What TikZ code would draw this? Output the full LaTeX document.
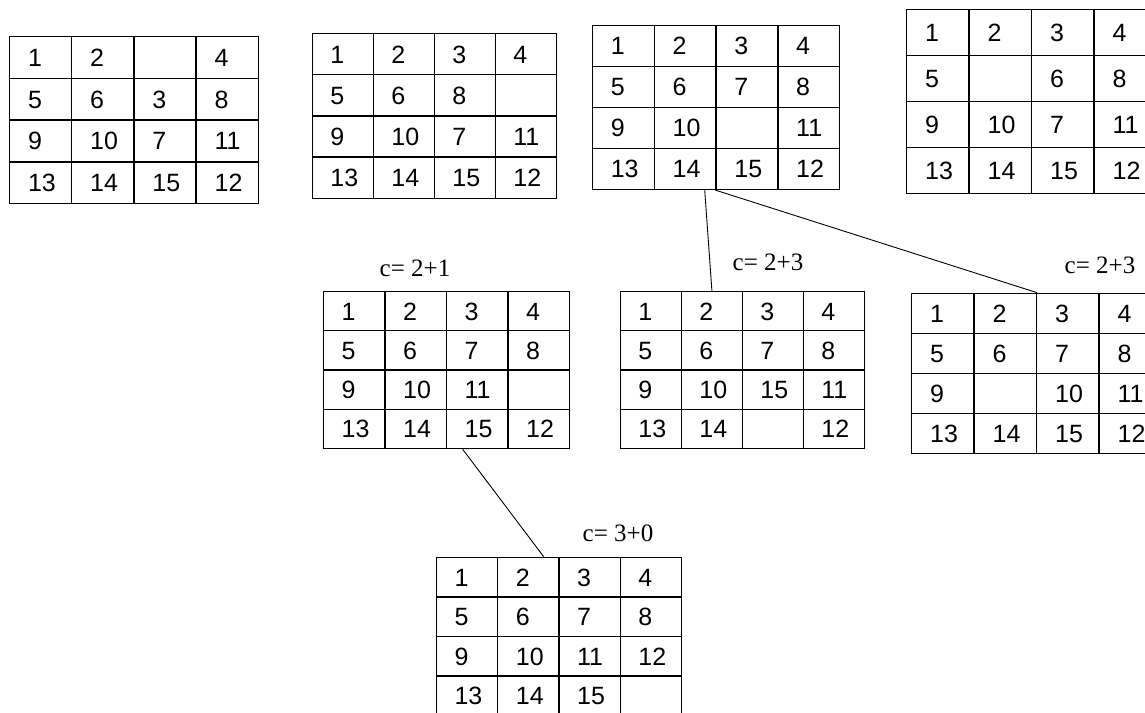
\documentclass[tikz,border=0pt]{standalone}
\usepackage{fontspec}
\setmainfont{Liberation Sans}
\newfontfamily\costfont{Liberation Serif}
\usetikzlibrary{matrix}

\begin{document}
\begin{tikzpicture}[
  x=1pt, y=-1pt,
  line width=1.4pt,
  cell/.style={draw, anchor=center, inner xsep=0pt, inner ysep=0pt, text width=25pt, text height=18pt, text depth=0pt, align=left, font=\fontsize{25}{28}\selectfont},
  board/.style 2 args={matrix of nodes, nodes in empty cells, anchor=north west, inner sep=0pt,
    column sep=-\pgflinewidth, row sep=-\pgflinewidth,
    nodes={cell, minimum width=#1, minimum height=#2}},
  cost/.style={font=\costfont\fontsize{25}{28}\selectfont},
  link/.style={line width=0.9pt}
]
\useasboundingbox (0,0) rectangle (1145,712);
\clip (0,0) rectangle (1145,712);

\matrix (b1) [board={62.2}{41.8}] at (8,35) {
  1 & 2 & & 4 \\
  5 & 6 & 3 & 8 \\
  9 & 10 & 7 & 11 \\
  13 & 14 & 15 & 12 \\
};
\matrix (b2) [board={61}{41.2}] at (311,32) {
  1 & 2 & 3 & 4 \\
  5 & 6 & 8 & \\
  9 & 10 & 7 & 11 \\
  13 & 14 & 15 & 12 \\
};
\matrix (b3) [board={61.8}{41}] at (591,24) {
  1 & 2 & 3 & 4 \\
  5 & 6 & 7 & 8 \\
  9 & 10 & & 11 \\
  13 & 14 & 15 & 12 \\
};
\matrix (b4) [board={62.5}{46}] at (905,8) {
  1 & 2 & 3 & 4 \\
  5 & & 6 & 8 \\
  9 & 10 & 7 & 11 \\
  13 & 14 & 15 & 12 \\
};
\matrix (b5) [board={61.5}{39.3}] at (322,290) {
  1 & 2 & 3 & 4 \\
  5 & 6 & 7 & 8 \\
  9 & 10 & 11 & \\
  13 & 14 & 15 & 12 \\
};
\matrix (b6) [board={61}{39.3}] at (619,290) {
  1 & 2 & 3 & 4 \\
  5 & 6 & 7 & 8 \\
  9 & 10 & 15 & 11 \\
  13 & 14 & & 12 \\
};
\matrix (b7) [board={62.5}{40}] at (910,292) {
  1 & 2 & 3 & 4 \\
  5 & 6 & 7 & 8 \\
  9 & & 10 & 11 \\
  13 & 14 & 15 & 12 \\
};
\matrix (b8) [board={61.3}{39.5}] at (435,556) {
  1 & 2 & 3 & 4 \\
  5 & 6 & 7 & 8 \\
  9 & 10 & 11 & 12 \\
  13 & 14 & 15 & \\
};

\node[cost] (c5) at (415,268) {c= 2+1};
\node[cost] (c6) at (768,262) {c= 2+3};
\node[cost] (c7) at (1100,265) {c= 2+3};
\node[cost] (c8) at (618,533) {c= 3+0};

\draw[link] ([xshift=-12pt]b3-4-2.south east) -- (b6-1-2.north);
\draw[link] (b3-4-3.south west) -- (b7-1-2.north east);
\draw[link] ([xshift=17pt]b5-4-3.south west) -- ([xshift=-16pt]b8-1-2.north east);
\end{tikzpicture}
\end{document}
